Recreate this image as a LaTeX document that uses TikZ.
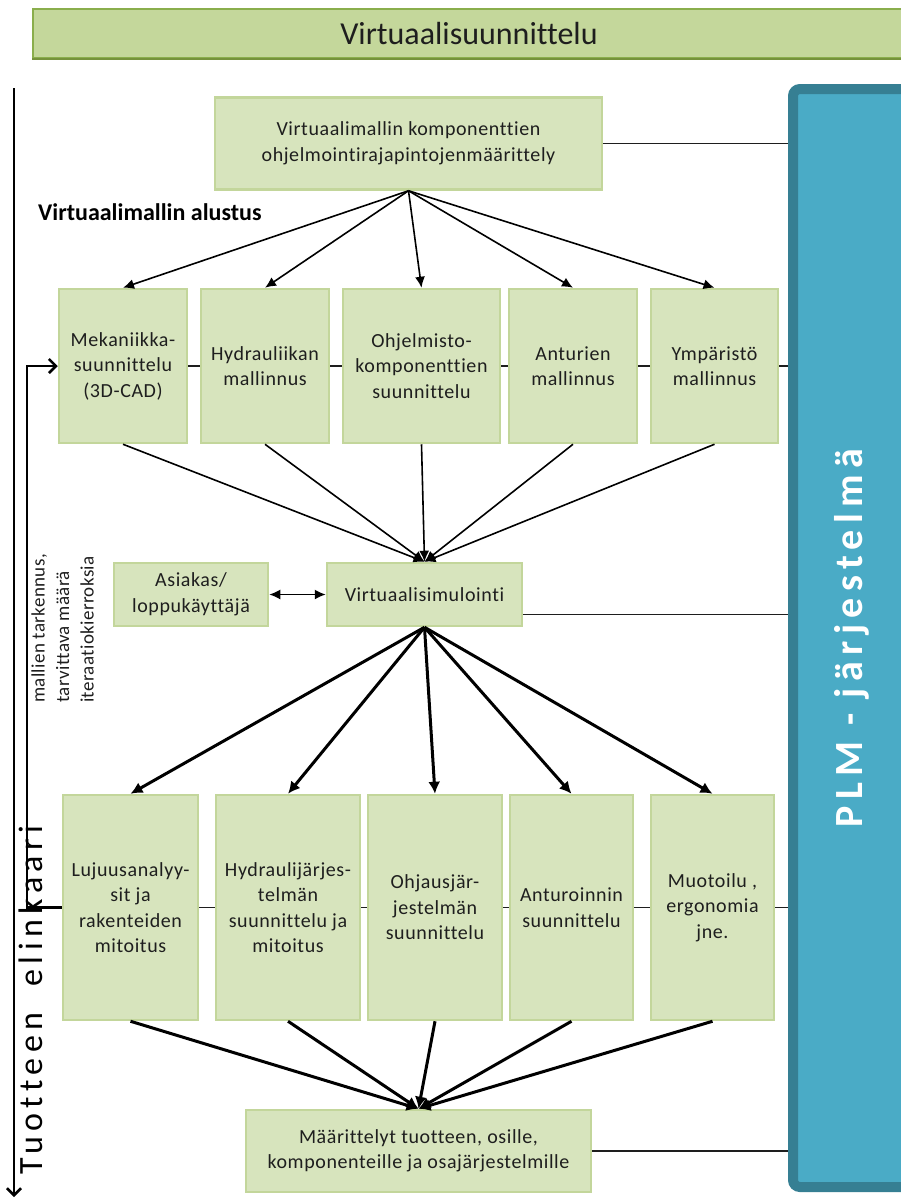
\documentclass[tikz,border=0pt]{standalone}
\usepackage{fontspec}
\setmainfont{Carlito}[Ligatures=NoCommon]
\usetikzlibrary{arrows.meta,calc}
\definecolor{boxfill}{HTML}{D7E4BD}
\definecolor{boxline}{HTML}{C3D69B}
\definecolor{titlefill}{HTML}{C4D79B}
\definecolor{titleline}{HTML}{8AAE4C}
\definecolor{titledark}{HTML}{76923C}
\definecolor{plmdark}{HTML}{367F93}
\definecolor{plmfill}{HTML}{4AABC6}
\definecolor{ink}{HTML}{1E1E1E}
\pgfdeclarelayer{bg}
\pgfsetlayers{bg,main}
\begin{document}
\begin{tikzpicture}[x=1pt,y=-1pt,
  box/.style={draw=boxline, line width=2.5pt, fill=boxfill, text=ink, align=center,
    inner sep=0pt, font=\fontsize{20}{25.5}\selectfont\addfontfeatures{LetterSpace=3}},
  bus/.style={line width=1.4pt, draw=ink},
  thinarrow/.style={line width=1.6pt, draw=black, -{Latex[length=11pt,width=10pt]}},
  thickarrow/.style={line width=3pt, draw=black, -{Latex[length=12pt,width=12pt]}},
  barbarrow/.style={line width=2.6pt, draw=black, -{Straight Barb[length=7pt,width=14pt]}}]
\useasboundingbox (0,0) rectangle (901,1200);

% title bar
\node[draw=titleline, line width=2pt, fill=titlefill, minimum width=872pt, minimum height=49pt,
  inner sep=0pt, text=ink, font=\fontsize{32}{38}\selectfont] (title) at (469,33.5) {Virtuaalisuunnittelu};
\draw[titledark, line width=2.5pt] (title.south west) -- (title.south east);

% PLM column
\node[draw=plmdark, line width=10pt, fill=plmfill, rounded corners=7pt,
  minimum width=122pt, minimum height=1098pt] (plm) at (854,638) {};
\node[rotate=90, inner sep=0pt, text=white, font=\fontsize{40}{46}\selectfont\bfseries\addfontfeatures{LetterSpace=16}]
  (plmtxt) at (852,638) {PLM - järjestelmä};

% product life cycle axis
\coordinate (lctop) at (14,88);
\coordinate (lcend) at (14,1197);
\draw[barbarrow] (lctop) -- (lcend);
\node[rotate=90, text=black, inner sep=0pt, font=\fontsize{34}{40}\selectfont\addfontfeatures{LetterSpace=16}]
  (lctxt) at (31,1000) {Tuotteen\ \ elinkaari};

% nodes
\node[box, minimum width=387pt, minimum height=92pt] (top) at (408.5,143.5)
  {Virtuaalimallin komponenttien\\ohjelmointirajapintojenmäärittely};
\node[anchor=west, inner sep=0pt, text=black, font=\fontsize{24}{28}\selectfont\bfseries]
  (alustus) at (38,212) {Virtuaalimallin alustus};

\node[box, minimum width=128pt, minimum height=154pt] (mek) at (123,366) {Mekaniikka-\\suunnittelu\\(3D-CAD)};
\node[box, minimum width=128pt, minimum height=154pt] (hyd) at (265,366) {Hydrauliikan\\mallinnus};
\node[box, minimum width=157pt, minimum height=154pt] (ohj) at (421.5,366) {Ohjelmisto-\\komponenttien\\suunnittelu};
\node[box, minimum width=128pt, minimum height=154pt] (ant) at (573,366) {Anturien\\mallinnus};
\node[box, minimum width=127pt, minimum height=154pt] (ymp) at (714.5,366) {Ympäristö\\mallinnus};

\node[box, minimum width=195pt, minimum height=63pt] (sim) at (424.5,594.5) {Virtuaalisimulointi};
\node[box, minimum width=154pt, minimum height=63pt] (asi) at (191,594.5) {Asiakas/\\loppukäyttäjä};

\node[rotate=90, anchor=west, align=left, inner sep=0pt, text=ink,
  font=\fontsize{19}{24.5}\selectfont\addfontfeatures{LetterSpace=2}] (iter) at (62.5,703)
  {mallien tarkennus,\\tarvittava määrä\\iteraatiokierroksia};

\node[box, minimum width=135pt, minimum height=225pt] (luj) at (130.5,907.5) {Lujuusanalyy-\\sit ja\\rakenteiden\\mitoitus};
\node[box, minimum width=144pt, minimum height=225pt] (hjs) at (288,907.5) {Hydraulijärjes-\\telmän\\suunnittelu ja\\mitoitus};
\node[box, minimum width=134pt, minimum height=225pt] (ohs) at (435,907.5) {Ohjausjär-\\jestelmän\\suunnittelu};
\node[box, minimum width=123pt, minimum height=225pt] (ans) at (571.5,907.5) {Anturoinnin\\suunnittelu};
\node[box, minimum width=123pt, minimum height=225pt] (muo) at (712.5,907.5) {Muotoilu ,\\ergonomia\\jne.};

\node[box, minimum width=345pt, minimum height=82pt] (bot) at (418.5,1151)
  {Määrittelyt tuotteen, osille,\\komponenteille ja osajärjestelmille};

\coordinate (fb) at (27,600);

% links to the PLM column and the row lines behind the boxes
\begin{pgfonlayer}{bg}
  \draw[bus] (top.east) -- (top.east -| plm.west);
  \draw[bus] (mek.east) -- (mek.east -| plm.west);
  \draw[bus] ($(sim.east)+(0,20)$) -- ($(sim.east -| plm.west)+(0,20)$);
  \draw[bus] (luj.east) -- (luj.east -| plm.west);
  \draw[bus] (bot.east) -- (bot.east -| plm.west);
\end{pgfonlayer}

% iteration feedback loop
\draw[line width=2.6pt, -{Straight Barb[length=7pt,width=14pt]}]
  (luj.west) -- (luj.west -| fb) -- (mek.west -| fb) -- (mek.west);

% model initialisation
\foreach \n in {mek,hyd,ohj,ant,ymp} \draw[thinarrow] (top.south) -- (\n.north);
\foreach \n in {mek,hyd,ohj,ant,ymp} \draw[thinarrow] (\n.south) -- (sim.north);
\draw[line width=1.6pt, {Latex[length=11pt,width=10pt]}-{Latex[length=11pt,width=10pt]}] (asi.east) -- (sim.west);

% design branches
\foreach \n in {luj,hjs,ohs,ans,muo} \draw[thickarrow] (sim.south) -- (\n.north);
\foreach \n in {luj,hjs,ohs,ans,muo} \draw[thickarrow] (\n.south) -- (bot.north);
\end{tikzpicture}
\end{document}
